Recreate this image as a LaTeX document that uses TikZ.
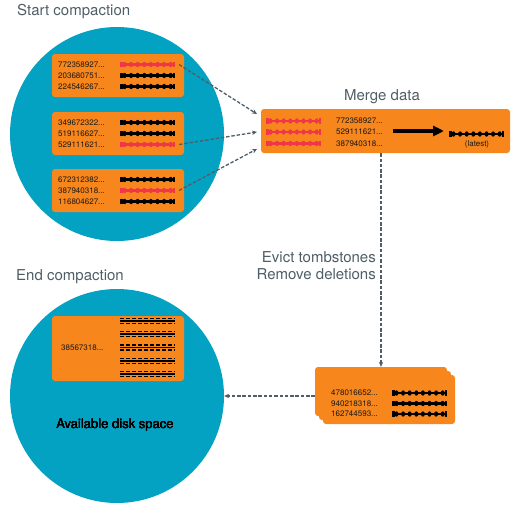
\documentclass[tikz,border=0pt]{standalone}
\usepackage{fontspec}
\setmainfont{TeX Gyre Heros}
\usepackage{tikz}
\usetikzlibrary{calc,arrows.meta}
\definecolor{diskblue}{HTML}{04A2C2}
\definecolor{sst}{HTML}{F7861C}
\definecolor{tomb}{HTML}{F2364A}
\definecolor{slate}{HTML}{4F5E66}
\tikzset{disk/.style={circle,fill=diskblue,inner sep=0pt,minimum size=214pt},table/.style={rounded corners=3pt,fill=sst,inner sep=0pt,minimum width=132pt},key label/.style={font=\fontsize{8}{9}\selectfont,text=black!90,inner sep=0pt,anchor=west},title label/.style={font=\fontsize{15}{17}\selectfont,text=slate,inner sep=0pt},flow/.style={draw=slate,dash pattern=on 3.5pt off 1.8pt,line width=1.3pt,-{Stealth[length=5pt,width=4.5pt]}}}
\newcommand{\rowbar}[3]{\draw[#3,line width=2.5pt,{Bar[width=5.5pt]}-{Bar[width=5.5pt]}] (#1,#2) -- ++(55,0);
	\foreach \k in {0,...,7} \fill[#3] (#1+4.5+\k*6.6,#2) ellipse (2pt and 2.7pt);}
\newcommand{\strikebar}[2]{\draw[black,line width=6.5pt,dash pattern=on 4pt off 2pt] (#1,#2) -- ++(55,0);
	\draw[sst,line width=3.4pt] (#1,#2) -- ++(55,0);
	\draw[black,line width=1.4pt] (#1,#2) -- ++(55,0);}

\begin{document}
\begin{tikzpicture}[x=1pt,y=-1pt]
				\useasboundingbox (0,0) rectangle (513,506);
				\node[title label,anchor=base west] (ST) at (17,15.5) {Start compaction};
				\node[title label,anchor=base west] (ET) at (16,280) {End compaction};
				\node[title label,anchor=base] (MT) at (382,100) {Merge data};
				\node[title label,anchor=east,align=right] (EV) at (376,266) {Evict tombstones\\Remove deletions};
				\node[disk] (S) at (117,134) {};
				\node[disk] (E) at (117,396) {};
				\node[table,minimum height=43pt] (A) at (118,75.5) {};
				\node[table,minimum height=43pt] (B) at (118,133.5) {};
				\node[table,minimum height=43pt] (C) at (118,190.5) {};
				\node[table,minimum width=249pt,minimum height=44pt] (M) at (385.5,131) {};
				\node[table,minimum height=65pt] (D) at (118,348.5) {};
				\node[table,minimum height=49pt] (T3) at (381,391.5) {};
				\node[table,minimum height=49pt] (T2) at (385,395.5) {};
				\node[table,minimum height=49pt] (T1) at (389,399.5) {};
				\node[key label] (A1) at (58,64.5) {772358927...};
				\node[key label] (A2) at (58,75.5) {203680751...};
				\node[key label] (A3) at (58,86.5) {224546267...};
				\node[key label] (B1) at (58,122.5) {349672322...};
				\node[key label] (B2) at (58,133.5) {519116627...};
				\node[key label] (B3) at (58,144.5) {529111621...};
				\node[key label] (C1) at (58,179.5) {672312382...};
				\node[key label] (C2) at (58,190.5) {387940318...};
				\node[key label] (C3) at (58,201.5) {116804627...};
				\rowbar{120}{64.5}{tomb} \rowbar{120}{75.5}{black} \rowbar{120}{86.5}{black}
				\rowbar{120}{122.5}{black} \rowbar{120}{133.5}{black} \rowbar{120}{144.5}{tomb}
				\rowbar{120}{179.5}{black} \rowbar{120}{190.5}{tomb} \rowbar{120}{201.5}{black}
				\node[key label] (M1) at (336,121) {772358927...};
				\node[key label] (M2) at (336,132) {529111621...};
				\node[key label] (M3) at (336,143.5) {387940318...};
				\rowbar{266}{121}{tomb} \rowbar{266}{132}{tomb} \rowbar{266}{143.5}{tomb}
				\draw[line width=3.5pt,-{Triangle[length=11pt,width=10pt]}] (393,131) -- (444,131);
				\rowbar{449}{134}{black}
				\node[key label,anchor=center] (L) at (477,144.5) {(latest)};
				\node[key label] (T1a) at (331,393) {478016652...};
				\node[key label] (T1b) at (331,403.5) {940218318...};
				\node[key label] (T1c) at (331,414) {162744593...};
				\rowbar{392}{393}{black} \rowbar{392}{403.5}{black} \rowbar{392}{414}{black}
				\node[key label] (D1) at (61,348) {38567318...};
				\foreach \y in {321,334,347.5,361,374} \strikebar{120}{\y}
				\node[font=\fontsize{13}{15}\selectfont,inner sep=0pt] (AV) at (115,425) {Available disk space};
				\coordinate (R1) at (179,64.5);
				\coordinate (R2) at (179,144.5);
				\coordinate (R3) at (179,190.5);
				\coordinate (P1) at (257,114);
				\coordinate (P2) at (257,132);
				\coordinate (P3) at (257,149);
				\draw[flow] (R1) -- (P1);
				\draw[flow] (R2) -- (P2);
				\draw[flow] (R3) -- (P3);
				\draw[flow] (T3.north |- M.south) -- (T3.north);
				\draw[flow] (T3.west |- E.east) -- (E.east);
			\end{tikzpicture}
\end{document}
